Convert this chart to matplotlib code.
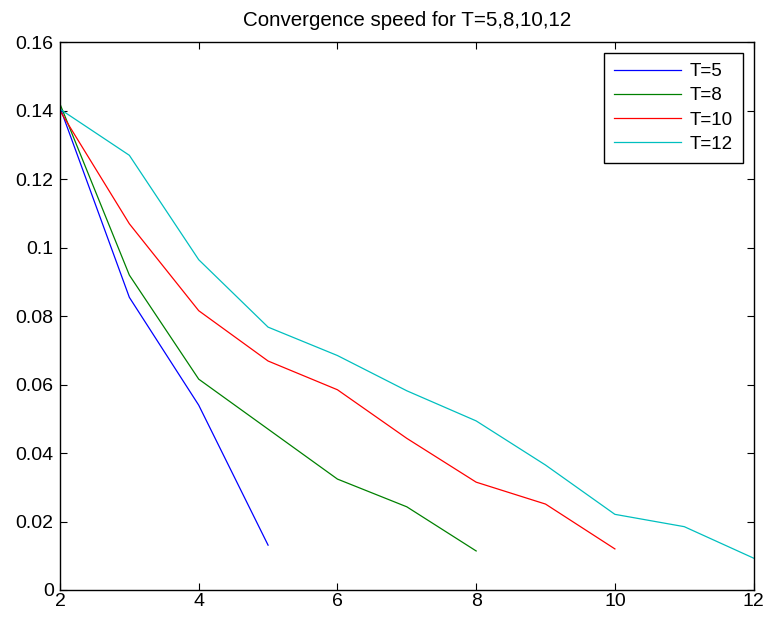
import matplotlib
matplotlib.use("Agg")
import matplotlib.pyplot as plt

X5 = [2, 3, 4, 5]
Y5 = [0.141, 0.0855, 0.054, 0.0131]

X8 = [2, 3, 4, 5, 6, 7, 8]
Y8 = [0.142, 0.092, 0.0616, 0.047, 0.0324, 0.0243, 0.0114]

X10 = [2, 3, 4, 5, 6, 7, 8, 9, 10]
Y10 = [0.140, 0.107, 0.0816, 0.0669, 0.0585, 0.0443, 0.0315, 0.0251, 0.012]

X12 = [2, 3, 4, 5, 6, 7, 8, 9, 10, 11, 12]
Y12 = [0.1405, 0.127, 0.0965, 0.0768, 0.0685, 0.0582, 0.0494, 0.0365, 0.0221, 0.0185, 0.0093]

YTICKS = [0, 0.02, 0.04, 0.06, 0.08, 0.1, 0.12, 0.14, 0.16]
YTICKLABELS = ["0", "0.02", "0.04", "0.06", "0.08", "0.1", "0.12", "0.14", "0.16"]
XTICKS = [2, 4, 6, 8, 10, 12]

plt.rcParams["font.family"] = ["Liberation Sans", "DejaVu Sans"]

fig = plt.figure(figsize=(7.69, 6.23), dpi=100)
ax = fig.add_axes([0.078, 0.053, 0.902, 0.879])

ax.plot(X5, Y5, color=(0, 0, 1), lw=0.9, label="T=5")
ax.plot(X8, Y8, color=(0, 0.5, 0), lw=0.9, label="T=8")
ax.plot(X10, Y10, color=(1, 0, 0), lw=0.9, label="T=10")
ax.plot(X12, Y12, color=(0, 0.75, 0.75), lw=0.9, label="T=12")

ax.set_xlim(2, 12)
ax.set_ylim(0, 0.16)
ax.set_xticks(XTICKS)
ax.set_xticklabels([str(t) for t in XTICKS])
ax.set_yticks(YTICKS)
ax.set_yticklabels(YTICKLABELS)
ax.tick_params(direction="in", top=True, right=True, labelsize=14, length=5,
               width=0.8)
ax.tick_params(axis="x", pad=2.5)
ax.tick_params(axis="y", pad=4.5)
for s in ax.spines.values():
    s.set_linewidth(1.0)

ax.set_title("Convergence speed for T=5,8,10,12", fontsize=14.8, pad=11.5)

leg = ax.legend(loc="upper right", fontsize=13.5, fancybox=False, framealpha=1,
                edgecolor="black", handlelength=3.6, handletextpad=0.45,
                borderpad=0.55, labelspacing=0.38, borderaxespad=0.55)
leg.get_frame().set_linewidth(1.0)

fig.savefig("out.png", dpi=100)
